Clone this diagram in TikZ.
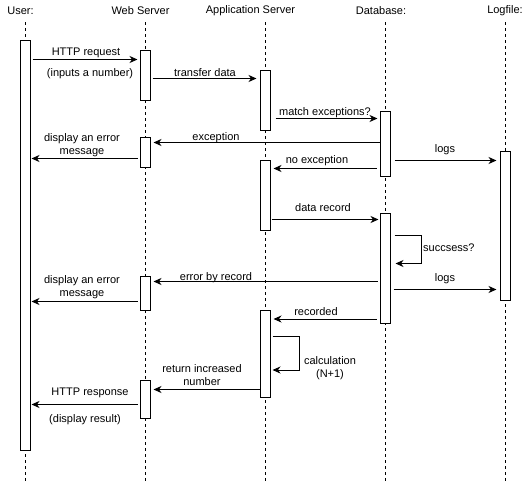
\documentclass[tikz,border=0pt]{standalone}
\usepackage{fontspec}
\setmainfont{Liberation Sans}
\usetikzlibrary{arrows.meta,positioning,calc}
\tikzstyle{act} = [draw, fill=white, line width=1pt, minimum width=10pt,
    inner sep=0pt]
\tikzstyle{msg} = [-{Stealth[length=8pt,width=7pt,inset=2.5pt]}, line width=1pt]
\tikzstyle{life} = [line width=0.8pt, dash pattern=on 3pt off 3pt]
\tikzstyle{txt} = [inner sep=0pt, align=center,
    font=\fontsize{11}{13}\selectfont]

\begin{document}
\begin{tikzpicture}[x=1pt, y=-1pt, node distance=120pt]
  \useasboundingbox (0,0) rectangle (531,482);
  % heads
  \node [txt] (user) at (20.5,11) {User:};
  \node [txt, right of=user] (web) {Web Server};
  \node [txt, right of=web, node distance=110pt] (app) {Application Server};
  \node [txt, right of=app, node distance=130.5pt] (db) {Database:};
  \node [txt, right of=db, node distance=124pt] (log) {Logfile:};
  \foreach \x in {25,145,265,385,505}
    \draw [life] (\x,22) -- (\x,482);
  % activations
  \node [act, minimum height=410pt] (u1) at (25,245) {};
  \node [act, minimum height=50pt] (w1) at (145,75) {};
  \node [act, minimum height=30pt] (w2) at (145,152) {};
  \node [act, minimum height=34pt] (w3) at (145,293) {};
  \node [act, minimum height=38pt] (w4) at (145,399) {};
  \node [act, minimum height=60pt] (a1) at (265,100) {};
  \node [act, minimum height=70pt] (a2) at (265,195) {};
  \node [act, minimum height=87pt] (a3) at (265,354) {};
  \node [act, minimum height=65pt] (d1) at (385,143.5) {};
  \node [act, minimum height=110pt] (d2) at (385,268) {};
  \node [act, minimum height=149pt] (l1) at (505,225.5) {};
  % messages
  \draw [msg] ($(u1.east |- w1.north)+(2,10)$) -- ($(w1.north west)+(-2,10)$);
  \draw [msg] ($(w1.east |- a1.north)+(2,9)$) -- ($(a1.north west)+(-3,9)$);
  \draw [msg] ($(a1.east |- d1.north)+(5,8)$) -- ($(d1.north west)+(-2,8)$);
  \draw [msg] ($(d1.west |- w2.north)+(0,6)$) -- ($(w2.north east)+(3,6)$);
  \draw [msg] ($(w2.north west)+(-2,22)$) -- ($(u1.east |- w2.north)+(1,22)$);
  \draw [msg] ($(d1.west |- a2.north)+(-3,9)$) -- ($(a2.north east)+(3,9)$);
  \draw [msg] ($(d1.east |- l1.north)+(4,10)$) -- ($(l1.north west)+(-3,10)$);
  \draw [msg] ($(a2.east |- d2.north)+(1,7)$) -- ($(d2.north west)+(-1,7)$);
  \draw [msg] ($(d2.north east)+(4,23)$) -- ++(27,0) -- ++(0,28) -- ++(-26,0);
  \draw [msg] ($(d2.west |- w3.north)+(-2,6)$) -- ($(w3.north east)+(3,6)$);
  \draw [msg] ($(d2.east |- l1.south)+(3,-11)$) -- ($(l1.south west)+(-3,-11)$);
  \draw [msg] ($(w3.north west)+(-2,26)$) -- ($(u1.east |- w3.north)+(1,26)$);
  \draw [msg] ($(d2.west |- a3.north)+(-3,9)$) -- ($(a3.north east)+(3,9)$);
  \draw [msg] ($(a3.north east)+(2,26)$) -- ++(27,0) -- ++(0,34) -- ++(-27,0);
  \draw [msg] ($(a3.west |- w4.north)+(0,10)$) -- ($(w4.north east)+(3,10)$);
  \draw [msg] ($(w4.north west)+(-2,25)$) -- ($(u1.east |- w4.north)+(1,25)$);
  % labels
  \begin{scope}[yshift=-1.5pt]
  \node [txt] (m1) at (86,51) {HTTP request};
  \node [txt] (m1b) at (90,72) {(inputs a number)};
  \node [txt] (m2) at (205,71) {transfer data};
  \node [txt] (m3) at (325,111) {match exceptions?};
  \node [txt] (m4) at (216,136) {exception};
  \node [txt] (m5) at (82,143.5) {display an error\\message};
  \node [txt] (m6) at (317,159) {no exception};
  \node [txt] (m7) at (445,148) {logs};
  \node [txt] (m8) at (323,206) {data record};
  \node [txt, anchor=west] (m9) at (423,246) {succsess?};
  \node [txt] (m10) at (216,276) {error by record};
  \node [txt] (m11) at (445,277) {logs};
  \node [txt] (m12) at (82,285.5) {display an error\\message};
  \node [txt] (m13) at (316,310) {recorded};
  \node [txt] (m14) at (330,366.5) {calculation\\(N+1)};
  \node [txt] (m15) at (202,373.5) {return increased\\number};
  \node [txt] (m16) at (90,391) {HTTP response};
  \node [txt] (m16b) at (85,418) {(display result)};
  \end{scope}
\end{tikzpicture}
\end{document}
